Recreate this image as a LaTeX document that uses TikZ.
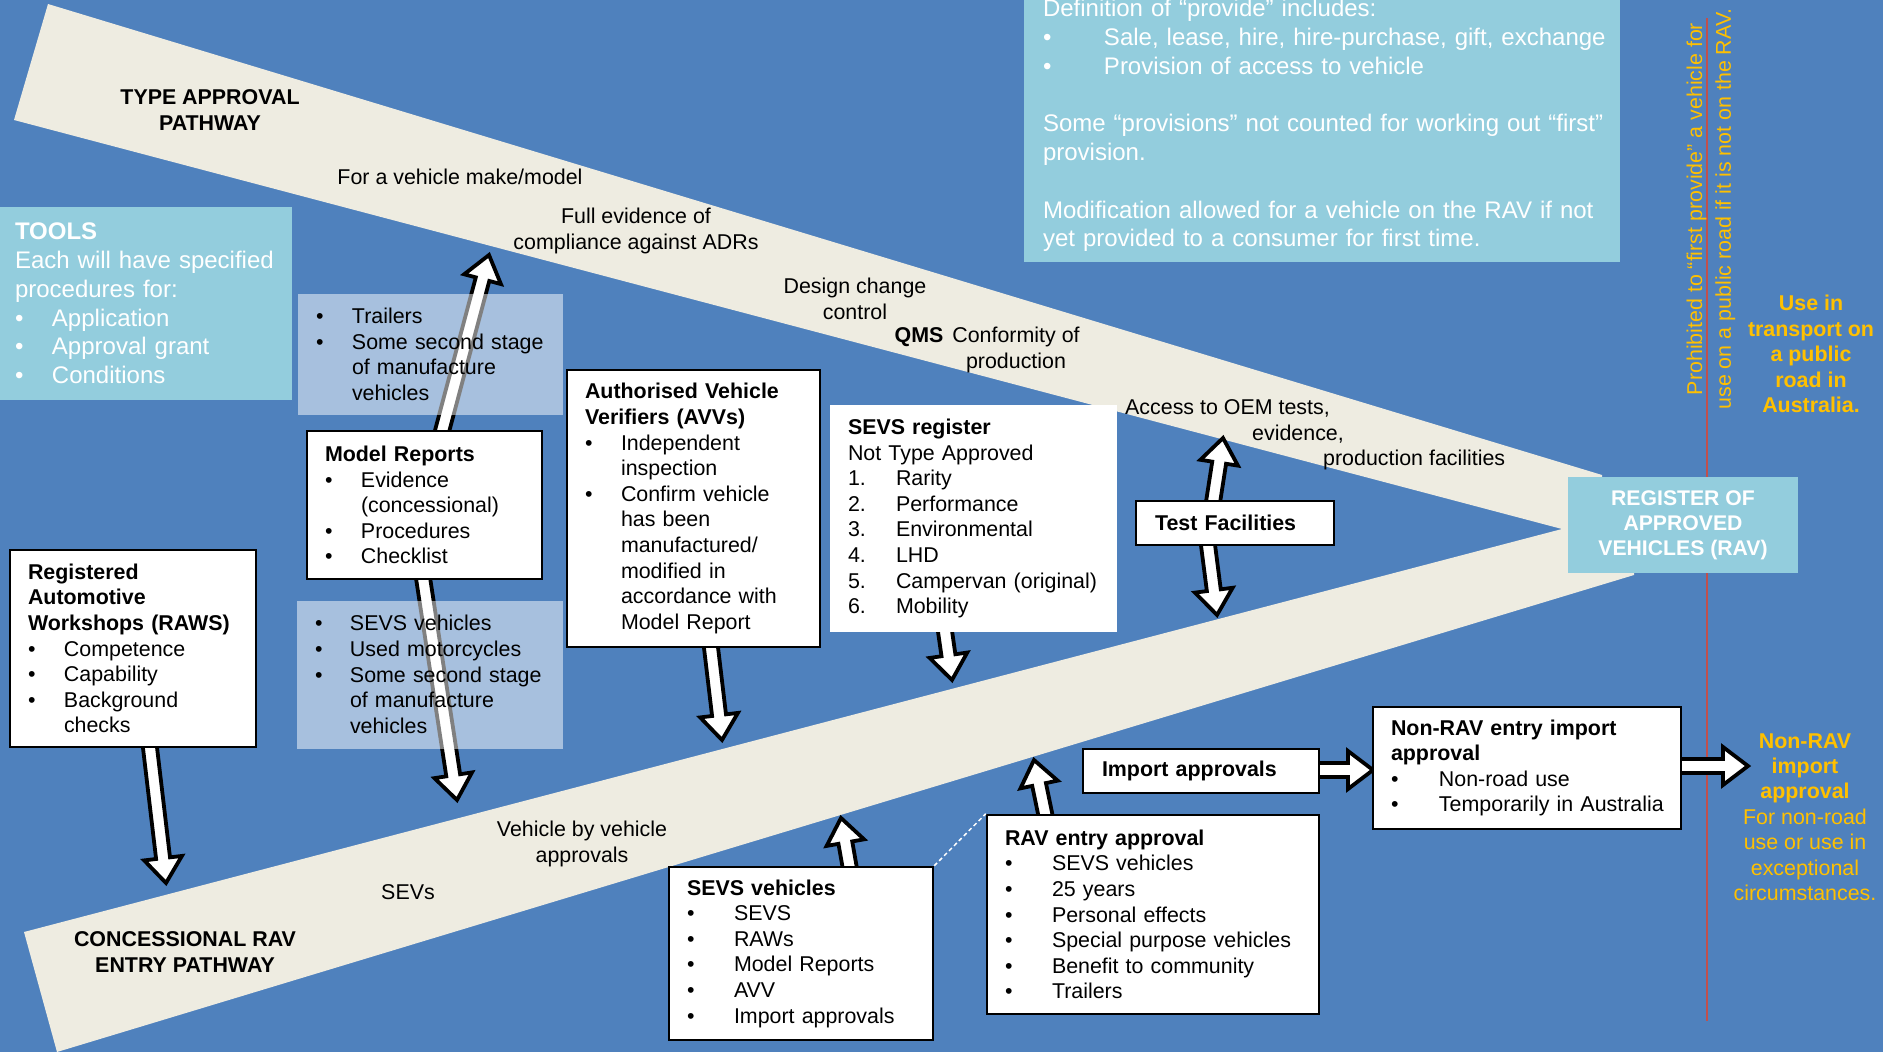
\documentclass[tikz,border=0pt]{standalone}
\usepackage{fontspec}
\setmainfont{Liberation Sans}
\usetikzlibrary{calc}
\pgfdeclarelayer{back}
\pgfdeclarelayer{arr}
\pgfsetlayers{back,arr,main}
\definecolor{bgblue}{HTML}{4F81BD}
\definecolor{band}{HTML}{EEECE1}
\definecolor{lblue}{HTML}{93CDDD}
\definecolor{orng}{HTML}{FFC000}
\definecolor{redl}{HTML}{C0504D}
\newlength\bind
\newcommand\myb[1]{\mbox{\makebox[\bind][l]{\textbullet}#1}}
\newcommand\myc[1]{\mbox{\hspace*{\bind}#1}}
\newcommand\myn[2]{\mbox{\makebox[\bind][l]{#1}#2}}
\newcommand\fbody{\fontsize{21.4pt}{25.6pt}\selectfont}
\newcommand\fbig{\fontsize{24pt}{28.8pt}\selectfont}
\tikzset{
  wbox/.style={draw=black, line width=2.5pt, fill=white, align=left, inner xsep=18pt, inner ysep=0pt, font=\fbody},
  tbox/.style={fill=white, fill opacity=0.5, text opacity=1, align=left, inner xsep=18pt, inner ysep=0pt, font=\fbody},
  lbl/.style={font=\fbody, align=center, inner sep=0pt},
  blockarrow/.style={draw=black, fill=white, line width=3.8pt, line join=miter}
}
\newcommand\blockarr[2]{%
  \path[blockarrow] let \p1=(#1), \p2=(#2),
    \n1={atan2(\y2-\y1,\x2-\x1)}, \n2={veclen(\x2-\x1,\y2-\y1)} in
    {[shift={(\p1)}, rotate=\n1, x=1pt, y=1pt]
     (0,-7) -- ({\n2-25},-7) -- ({\n2-25},-19) -- (\n2,0) -- ({\n2-25},19) -- ({\n2-25},7) -- (0,7) -- cycle};}
\begin{document}
\begin{tikzpicture}[x=1pt,y=-1pt]
\useasboundingbox (0,0) rectangle (1883,1052);
\begin{pgfonlayer}{back}
  \fill[bgblue] (0,0) rectangle (1883,1052);
  \fill[band] (48,4) -- (1602,475) -- (1602,529) -- (1562,529) -- (14,120) -- cycle;
  \fill[band] (24,932) -- (1562,529) -- (1634,529) -- (1634,575) -- (57,1052) -- cycle;
  \draw[redl, line width=2pt] (1707,18) -- (1707,1021);
\end{pgfonlayer}

% pathway labels
\node[lbl, font=\bfseries\fbody] (tap) at (210,110) {TYPE APPROVAL\\PATHWAY};
\node[lbl] (make) at (460,177) {For a vehicle make/model};
\node[lbl] (full) at (636,231) {Full evidence of\\compliance against ADRs};
\node[lbl] (dcc) at (855,299) {Design change\\control};
\node[lbl, font=\bfseries\fbody] (qms) at (919,337.5) {QMS};
\node[lbl] (cop) at (1016,350) {Conformity of\\production};
\node[lbl, anchor=west] (oem1) at (1125,408) {Access to OEM tests,};
\node[lbl, anchor=west] (oem2) at (1252,434) {evidence,};
\node[lbl, anchor=west] (oem3) at (1323,460) {production facilities};
\node[lbl] (vbv) at (582,844) {Vehicle by vehicle\\approvals};
\node[lbl] (sevs) at (408,892) {SEVs};
\node[lbl, font=\bfseries\fbody] (crav) at (185,952) {CONCESSIONAL RAV\\ENTRY PATHWAY};

% light blue panels
\node[fill=lblue, text=white, font=\fbig, align=left, text width=262pt, inner xsep=15pt, inner ysep=0pt, minimum height=193pt] (tools) at (146,303.5)
 {\setlength\bind{37pt}\textbf{TOOLS}\\\mbox{Each will have specified}\\\mbox{procedures for:}\\\myb{Application}\\\myb{Approval grant}\\\myb{Conditions}};
\node[fill=lblue, text=white, font=\fbig, align=left, text width=558pt, inner xsep=19pt, inner ysep=0pt, minimum height=273pt] (defn) at (1322,125.5)
 {\setlength\bind{61pt}\mbox{Definition of “provide” includes:}\\\myb{Sale, lease, hire, hire-purchase, gift, exchange}\\\myb{Provision of access to vehicle}\\[28.8pt]\mbox{Some “provisions” not counted for working out “first”}\\\mbox{provision.}\\[28.8pt]\mbox{Modification allowed for a vehicle on the RAV if not}\\\mbox{yet provided to a consumer for first time.}};
\node[fill=lblue, text=white, font=\bfseries\fontsize{21.2pt}{25.2pt}\selectfont, align=center, minimum width=230pt, minimum height=96pt, inner sep=0pt] (rav) at (1683,525)
 {REGISTER OF\\APPROVED\\VEHICLES (RAV)};

% translucent lists
\node[tbox, text width=229pt, minimum height=121pt] (trl) at (430.5,354.5)
 {\setlength\bind{36pt}\myb{Trailers}\\\myb{Some second stage}\\\myc{of manufacture}\\\myc{vehicles}};
\node[tbox, text width=230pt, minimum height=148pt] (svl) at (430,674.5)
 {\setlength\bind{35pt}\myb{SEVS vehicles}\\\myb{Used motorcycles}\\\myb{Some second stage}\\\myc{of manufacture}\\\myc{vehicles}};

% white boxes
\node[wbox, text width=199pt, minimum height=148pt] (mr) at (424.5,505)
 {\setlength\bind{36pt}\textbf{Model Reports}\\\myb{Evidence}\\\myc{(concessional)}\\\myb{Procedures}\\\myb{Checklist}};
\node[wbox, text width=210pt, minimum height=197pt] (raws) at (133,648.5)
 {\setlength\bind{36pt}\textbf{Registered}\\\textbf{Automotive}\\\mbox{\textbf{Workshops (RAWS)}}\\\myb{Competence}\\\myb{Capability}\\\myb{Background}\\\myc{checks}};
\node[wbox, text width=217pt, minimum height=277pt] (avv) at (693.5,508.5)
 {\setlength\bind{36pt}\mbox{\textbf{Authorised Vehicle}}\\\mbox{\textbf{Verifiers (AVVs)}}\\\myb{Independent}\\\myc{inspection}\\\myb{Confirm vehicle}\\\myc{has been}\\\myc{manufactured/}\\\myc{modified in}\\\myc{accordance with}\\\myc{Model Report}};
\node[wbox, draw=none, text width=251pt, minimum height=227pt] (sreg) at (973.5,518.5)
 {\setlength\bind{48pt}\textbf{SEVS register}\\\mbox{Not Type Approved}\\\myn{1.}{Rarity}\\\myn{2.}{Performance}\\\myn{3.}{Environmental}\\\myn{4.}{LHD}\\\myn{5.}{Campervan (original)}\\\myn{6.}{Mobility}};
\node[wbox, inner xsep=19pt, text width=160pt, minimum height=44pt] (tf) at (1235,523) {\textbf{Test Facilities}};
\node[wbox, inner xsep=19pt, text width=198pt, minimum height=44pt] (ia) at (1201,771) {\textbf{Import approvals}};
\node[wbox, text width=272pt, minimum height=122pt] (nr) at (1527,768)
 {\setlength\bind{48pt}\mbox{\textbf{Non-RAV entry import}}\\\textbf{approval}\\\myb{Non-road use}\\\myb{Temporarily in Australia}};
\node[wbox, text width=296pt, minimum height=199pt] (rae) at (1153,914.5)
 {\setlength\bind{47pt}\textbf{RAV entry approval}\\\myb{SEVS vehicles}\\\myb{25 years}\\\myb{Personal effects}\\\myb{Special purpose vehicles}\\\myb{Benefit to community}\\\myb{Trailers}};
\node[wbox, text width=228pt, minimum height=173pt] (sv) at (801,953.5)
 {\setlength\bind{47pt}\textbf{SEVS vehicles}\\\myb{SEVS}\\\myb{RAWs}\\\myb{Model Reports}\\\myb{AVV}\\\myb{Import approvals}};

\draw[white, line width=1.5pt, dash pattern=on 4pt off 3pt] (sv.north east) -- (rae.north west);

% orange texts
\node[rotate=90, text=orng, font=\fontsize{21.4pt}{28.8pt}\selectfont, align=center, inner sep=0pt] (prohib) at (1711,209)
 {Prohibited to “first provide” a vehicle for\\use on a public road if it is not on the RAV.};
\node[text=orng, font=\bfseries\fontsize{21.4pt}{25.5pt}\selectfont, align=center, inner sep=0pt] (usein) at (1811,354)
 {Use in\\transport on\\a public\\road in\\Australia.};
\node[text=orng, font=\fontsize{21.4pt}{25.4pt}\selectfont, align=center, inner sep=0pt] (nrtext) at (1805,817)
 {\textbf{Non-RAV}\\\textbf{import}\\\textbf{approval}\\For non-road\\use or use in\\exceptional\\circumstances.};

% arrow tips
\coordinate (tA) at (489,255);
\coordinate (tB) at (457,800);
\coordinate (tC) at (166,883);
\coordinate (tD) at (722,740);
\coordinate (tE) at (952,680);
\coordinate (tF1) at (1223,438);
\coordinate (tF2) at (1217,615);
\coordinate (tG) at (841,818);
\coordinate (tH) at (1034,760);
\coordinate (tI) at (1373,770);
\coordinate (tJ) at (1748,766);

\begin{pgfonlayer}{arr}
  \blockarr{$(mr.north)+(15.5,9)$}{tA}
  \blockarr{$(mr.south)+(-2.5,-9)$}{tB}
  \blockarr{$(raws.south)+(16,-9)$}{tC}
  \blockarr{$(avv.south)+(16.5,-9)$}{tD}
  \blockarr{$(sreg.south)+(-29.5,-9)$}{tE}
  \blockarr{$(tf.north)+(-23,9)$}{tF1}
  \blockarr{$(tf.south)+(-28,-9)$}{tF2}
  \blockarr{$(sv.north)+(50,9)$}{tG}
  \blockarr{$(rae.north)+(-106,9)$}{tH}
  \blockarr{$(ia.east)+(-9,-1)$}{tI}
  \blockarr{$(nr.east)+(-9,-2)$}{tJ}
\end{pgfonlayer}
\end{tikzpicture}
\end{document}
